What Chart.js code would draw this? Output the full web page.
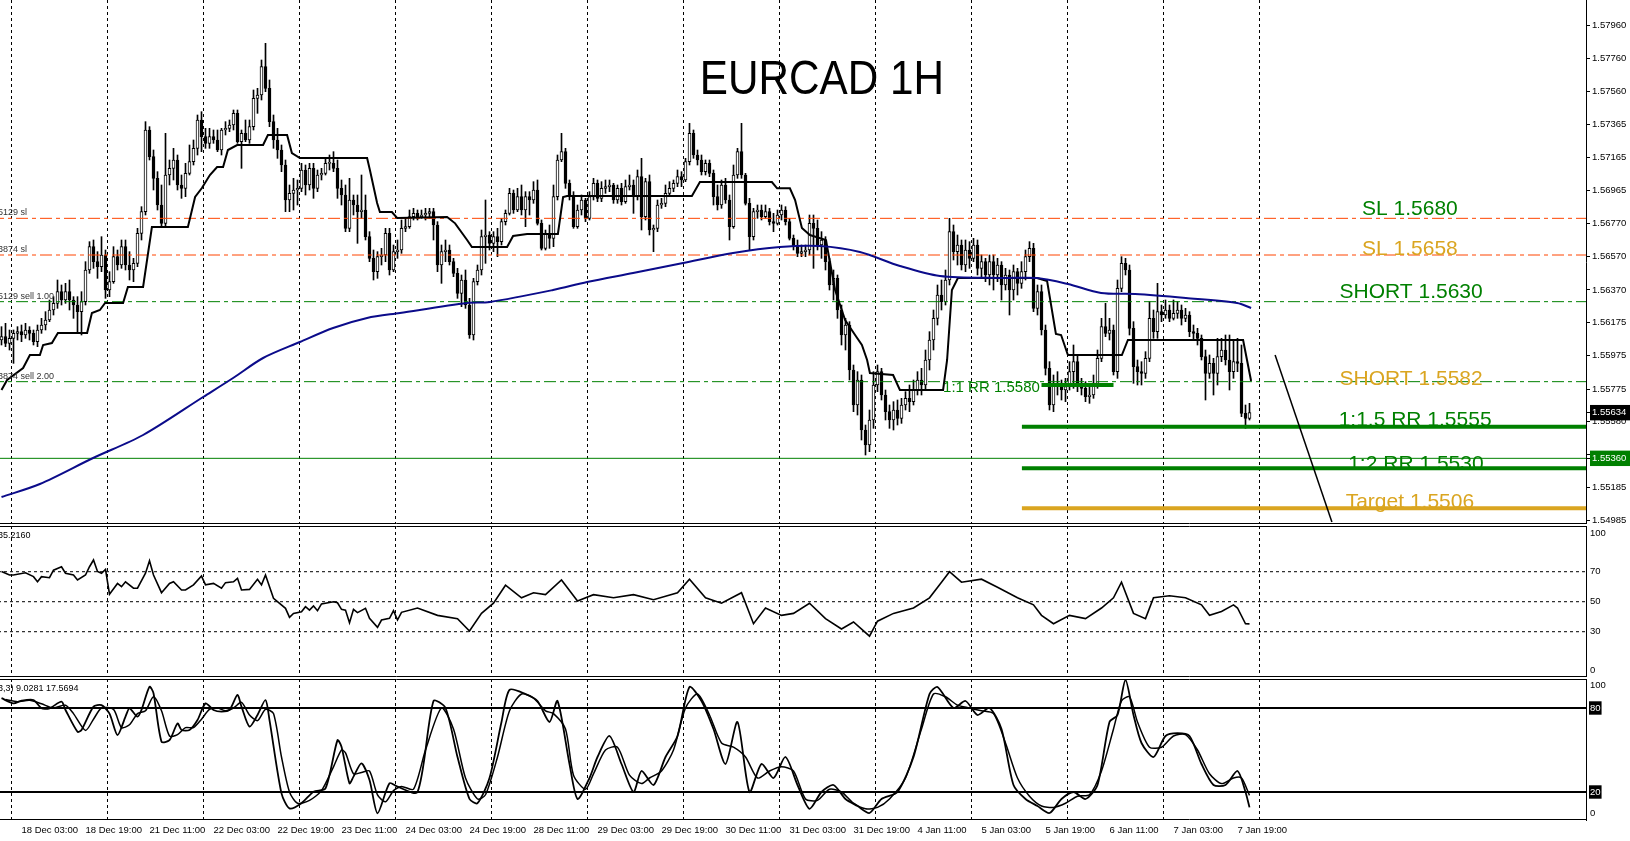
<!DOCTYPE html>
<html>
<head>
<meta charset="utf-8">
<title>EURCAD 1H</title>
<script src="https://cdn.jsdelivr.net/npm/chart.js@4.4.1/dist/chart.umd.min.js"></script>
<style>
  html, body { margin: 0; padding: 0; background: #fff; }
  #wrap { position: relative; width: 1630px; height: 841px; overflow: hidden; background: #fff; }
  #wrap canvas { position: absolute; left: 0; }
</style>
</head>
<body>
<div id="wrap">
  <canvas id="priceCanvas" width="1630" height="524" style="top:0;width:1630px;height:524px"></canvas>
  <canvas id="rsiCanvas" width="1630" height="151" style="top:526px;width:1630px;height:151px"></canvas>
  <canvas id="stochCanvas" width="1630" height="162" style="top:679px;width:1630px;height:162px"></canvas>
</div>
<script>
// ---- hourly candles, one entry per bar (bar 0 = left edge) ----
const opens = [
  1.5607,1.5609,1.5605,1.5608,1.5611,1.5612,1.5610,1.5613,1.5611,1.5606,
  1.5613,1.5616,1.5619,1.5625,1.5629,1.5636,1.5631,1.5636,1.5631,1.5628,
  1.5624,1.5630,1.5649,1.5663,1.5654,1.5651,1.5658,1.5637,1.5642,1.5657,
  1.5652,1.5663,1.5652,1.5649,1.5653,1.5671,1.5684,1.5733,1.5717,1.5704,
  1.5688,1.5677,1.5706,1.5710,1.5715,1.5700,1.5698,1.5707,1.5714,1.5722,
  1.5739,1.5729,1.5725,1.5729,1.5727,1.5721,1.5733,1.5734,1.5736,1.5743,
  1.5726,1.5731,1.5727,1.5735,1.5752,1.5754,1.5771,1.5758,1.5738,1.5727,
  1.5721,1.5712,1.5691,1.5695,1.5697,1.5698,1.5709,1.5700,1.5710,1.5698,
  1.5706,1.5707,1.5713,1.5713,1.5710,1.5698,1.5694,1.5674,1.5691,1.5688,
  1.5684,1.5685,1.5669,1.5656,1.5648,1.5657,1.5658,1.5671,1.5649,1.5660,
  1.5661,1.5674,1.5675,1.5681,1.5683,1.5681,1.5682,1.5683,1.5684,1.5676,
  1.5652,1.5660,1.5661,1.5654,1.5647,1.5635,1.5643,1.5628,1.5610,1.5642,
  1.5649,1.5669,1.5670,1.5665,1.5669,1.5666,1.5678,1.5683,1.5695,1.5685,
  1.5693,1.5685,1.5693,1.5691,1.5697,1.5677,1.5662,1.5671,1.5668,1.5693,
  1.5715,1.5720,1.5701,1.5693,1.5675,1.5685,1.5691,1.5680,1.5693,1.5701,
  1.5692,1.5698,1.5699,1.5700,1.5691,1.5698,1.5690,1.5699,1.5700,1.5693,
  1.5705,1.5681,1.5702,1.5673,1.5674,1.5688,1.5689,1.5695,1.5698,1.5701,
  1.5705,1.5703,1.5714,1.5731,1.5718,1.5715,1.5708,1.5713,1.5707,1.5693,
  1.5688,1.5700,1.5691,1.5675,1.5706,1.5720,1.5706,1.5689,1.5669,1.5684,
  1.5685,1.5681,1.5684,1.5678,1.5677,1.5682,1.5685,1.5678,1.5668,1.5663,
  1.5659,1.5660,1.5661,1.5677,1.5674,1.5664,1.5667,1.5654,1.5640,1.5644,
  1.5625,1.5610,1.5616,1.5589,1.5568,1.5583,1.5553,1.5544,1.5559,1.5580,
  1.5588,1.5574,1.5564,1.5559,1.5565,1.5560,1.5568,1.5572,1.5570,1.5577,
  1.5583,1.5580,1.5595,1.5607,1.5620,1.5634,1.5630,1.5643,1.5672,1.5660,
  1.5664,1.5652,1.5661,1.5656,1.5664,1.5650,1.5654,1.5646,1.5654,1.5646,
  1.5652,1.5640,1.5646,1.5637,1.5648,1.5641,1.5648,1.5657,1.5662,1.5626,
  1.5636,1.5613,1.5590,1.5568,1.5581,1.5579,1.5577,1.5579,1.5588,1.5594,
  1.5579,1.5578,1.5573,1.5574,1.5581,1.5596,1.5615,1.5611,1.5613,1.5588,
  1.5638,1.5653,1.5649,1.5614,1.5591,1.5588,1.5587,1.5596,1.5620,1.5612,
  1.5624,1.5622,1.5625,1.5620,1.5623,1.5625,1.5620,1.5622,1.5612,1.5611,
  1.5608,1.5597,1.5587,1.5593,1.5587,1.5597,1.5601,1.5595,1.5588,1.5594,
  1.5593,1.5563,1.5560
];
const highs = [
  1.5615,1.5617,1.5613,1.5613,1.5615,1.5616,1.5617,1.5615,1.5613,1.5616,
  1.5620,1.5624,1.5631,1.5633,1.5643,1.5640,1.5641,1.5643,1.5633,1.5633,
  1.5636,1.5654,1.5666,1.5667,1.5660,1.5669,1.5661,1.5648,1.5663,1.5661,
  1.5667,1.5667,1.5660,1.5656,1.5674,1.5687,1.5738,1.5735,1.5721,1.5708,
  1.5700,1.5731,1.5715,1.5722,1.5718,1.5706,1.5713,1.5724,1.5727,1.5742,
  1.5744,1.5734,1.5734,1.5733,1.5733,1.5734,1.5738,1.5739,1.5745,1.5745,
  1.5733,1.5739,1.5739,1.5757,1.5758,1.5775,1.5785,1.5763,1.5742,1.5734,
  1.5724,1.5715,1.5700,1.5704,1.5703,1.5713,1.5712,1.5713,1.5713,1.5709,
  1.5710,1.5716,1.5718,1.5720,1.5715,1.5703,1.5700,1.5704,1.5694,1.5694,
  1.5706,1.5694,1.5672,1.5661,1.5660,1.5662,1.5674,1.5674,1.5664,1.5667,
  1.5679,1.5680,1.5685,1.5686,1.5685,1.5685,1.5686,1.5686,1.5686,1.5678,
  1.5664,1.5667,1.5664,1.5656,1.5650,1.5646,1.5649,1.5632,1.5644,1.5652,
  1.5673,1.5691,1.5672,1.5672,1.5674,1.5680,1.5685,1.5698,1.5697,1.5698,
  1.5700,1.5696,1.5696,1.5702,1.5703,1.5679,1.5673,1.5676,1.5700,1.5718,
  1.5731,1.5722,1.5703,1.5696,1.5688,1.5694,1.5692,1.5696,1.5704,1.5703,
  1.5702,1.5703,1.5703,1.5701,1.5700,1.5701,1.5703,1.5706,1.5703,1.5709,
  1.5716,1.5704,1.5706,1.5676,1.5691,1.5692,1.5700,1.5702,1.5703,1.5709,
  1.5708,1.5716,1.5737,1.5733,1.5721,1.5718,1.5715,1.5715,1.5709,1.5700,
  1.5703,1.5704,1.5694,1.5712,1.5722,1.5737,1.5707,1.5692,1.5686,1.5688,
  1.5688,1.5688,1.5686,1.5683,1.5685,1.5688,1.5687,1.5680,1.5670,1.5667,
  1.5664,1.5664,1.5682,1.5682,1.5679,1.5672,1.5669,1.5656,1.5649,1.5646,
  1.5628,1.5620,1.5618,1.5592,1.5588,1.5586,1.5556,1.5565,1.5588,1.5592,
  1.5590,1.5577,1.5568,1.5570,1.5571,1.5572,1.5576,1.5580,1.5583,1.5588,
  1.5590,1.5601,1.5612,1.5625,1.5640,1.5643,1.5649,1.5680,1.5676,1.5670,
  1.5667,1.5667,1.5666,1.5668,1.5667,1.5658,1.5656,1.5658,1.5658,1.5656,
  1.5654,1.5650,1.5649,1.5652,1.5650,1.5654,1.5661,1.5666,1.5665,1.5640,
  1.5640,1.5616,1.5594,1.5586,1.5588,1.5583,1.5584,1.5594,1.5604,1.5598,
  1.5584,1.5582,1.5580,1.5586,1.5601,1.5620,1.5629,1.5620,1.5616,1.5643,
  1.5657,1.5656,1.5652,1.5618,1.5595,1.5594,1.5600,1.5630,1.5625,1.5641,
  1.5628,1.5631,1.5628,1.5631,1.5630,1.5628,1.5626,1.5624,1.5616,1.5614,
  1.5610,1.5601,1.5598,1.5596,1.5608,1.5608,1.5610,1.5610,1.5607,1.5608,
  1.5604,1.5568,1.5569
];
const lows = [
  1.5604,1.5603,1.5601,1.5593,1.5607,1.5606,1.5608,1.5607,1.5604,1.5603,
  1.5611,1.5613,1.5618,1.5622,1.5626,1.5628,1.5629,1.5625,1.5620,1.5611,
  1.5610,1.5628,1.5647,1.5650,1.5644,1.5648,1.5632,1.5633,1.5641,1.5649,
  1.5650,1.5649,1.5643,1.5642,1.5651,1.5667,1.5682,1.5715,1.5697,1.5685,
  1.5675,1.5675,1.5700,1.5703,1.5697,1.5692,1.5693,1.5706,1.5712,1.5718,
  1.5720,1.5722,1.5722,1.5725,1.5720,1.5718,1.5730,1.5732,1.5733,1.5725,
  1.5710,1.5726,1.5725,1.5733,1.5743,1.5751,1.5756,1.5735,1.5722,1.5716,
  1.5708,1.5684,1.5684,1.5685,1.5688,1.5696,1.5694,1.5697,1.5692,1.5696,
  1.5703,1.5706,1.5709,1.5708,1.5692,1.5688,1.5672,1.5672,1.5682,1.5665,
  1.5680,1.5667,1.5654,1.5643,1.5644,1.5652,1.5654,1.5646,1.5648,1.5656,
  1.5659,1.5672,1.5674,1.5679,1.5679,1.5680,1.5679,1.5680,1.5667,1.5648,
  1.5641,1.5654,1.5652,1.5645,1.5632,1.5627,1.5626,1.5608,1.5607,1.5640,
  1.5646,1.5653,1.5661,1.5660,1.5657,1.5664,1.5676,1.5682,1.5683,1.5684,
  1.5682,1.5675,1.5682,1.5689,1.5676,1.5661,1.5661,1.5662,1.5663,1.5691,
  1.5714,1.5698,1.5691,1.5674,1.5674,1.5682,1.5678,1.5679,1.5691,1.5690,
  1.5690,1.5695,1.5696,1.5689,1.5689,1.5688,1.5689,1.5697,1.5683,1.5691,
  1.5673,1.5679,1.5670,1.5660,1.5672,1.5686,1.5687,1.5693,1.5696,1.5699,
  1.5699,1.5702,1.5712,1.5716,1.5712,1.5706,1.5706,1.5705,1.5688,1.5685,
  1.5686,1.5689,1.5667,1.5674,1.5704,1.5704,1.5688,1.5661,1.5667,1.5680,
  1.5679,1.5680,1.5676,1.5672,1.5676,1.5679,1.5676,1.5667,1.5661,1.5657,
  1.5657,1.5657,1.5658,1.5650,1.5661,1.5656,1.5649,1.5637,1.5631,1.5620,
  1.5604,1.5601,1.5583,1.5564,1.5562,1.5547,1.5538,1.5540,1.5554,1.5576,
  1.5571,1.5559,1.5554,1.5553,1.5556,1.5557,1.5565,1.5564,1.5568,1.5574,
  1.5574,1.5577,1.5589,1.5601,1.5616,1.5625,1.5628,1.5640,1.5655,1.5652,
  1.5649,1.5648,1.5650,1.5654,1.5646,1.5644,1.5642,1.5640,1.5637,1.5642,
  1.5631,1.5637,1.5622,1.5631,1.5634,1.5638,1.5643,1.5654,1.5624,1.5622,
  1.5610,1.5586,1.5565,1.5564,1.5574,1.5571,1.5570,1.5577,1.5578,1.5576,
  1.5574,1.5570,1.5569,1.5572,1.5578,1.5594,1.5609,1.5607,1.5586,1.5584,
  1.5636,1.5646,1.5610,1.5581,1.5580,1.5580,1.5584,1.5594,1.5608,1.5608,
  1.5618,1.5620,1.5618,1.5619,1.5620,1.5616,1.5618,1.5609,1.5607,1.5604,
  1.5595,1.5571,1.5584,1.5574,1.5580,1.5594,1.5592,1.5577,1.5584,1.5588,
  1.5561,1.5554,1.5559
];
const closes = [
  1.5609,1.5605,1.5608,1.5611,1.5612,1.5610,1.5613,1.5611,1.5606,1.5613,
  1.5616,1.5619,1.5625,1.5629,1.5636,1.5631,1.5636,1.5631,1.5628,1.5624,
  1.5630,1.5649,1.5663,1.5654,1.5651,1.5658,1.5637,1.5642,1.5657,1.5652,
  1.5663,1.5652,1.5649,1.5653,1.5671,1.5684,1.5733,1.5717,1.5704,1.5688,
  1.5677,1.5706,1.5710,1.5715,1.5700,1.5698,1.5707,1.5714,1.5722,1.5739,
  1.5729,1.5725,1.5729,1.5727,1.5721,1.5733,1.5734,1.5736,1.5743,1.5726,
  1.5731,1.5727,1.5735,1.5752,1.5754,1.5771,1.5758,1.5738,1.5727,1.5721,
  1.5712,1.5691,1.5695,1.5697,1.5698,1.5709,1.5700,1.5710,1.5698,1.5706,
  1.5707,1.5713,1.5713,1.5710,1.5698,1.5694,1.5674,1.5691,1.5688,1.5684,
  1.5685,1.5669,1.5656,1.5648,1.5657,1.5658,1.5671,1.5649,1.5660,1.5661,
  1.5674,1.5675,1.5681,1.5683,1.5681,1.5682,1.5683,1.5684,1.5676,1.5652,
  1.5660,1.5661,1.5654,1.5647,1.5635,1.5643,1.5628,1.5610,1.5642,1.5649,
  1.5669,1.5670,1.5665,1.5669,1.5666,1.5678,1.5683,1.5695,1.5685,1.5693,
  1.5685,1.5693,1.5691,1.5697,1.5677,1.5662,1.5671,1.5668,1.5693,1.5715,
  1.5720,1.5701,1.5693,1.5675,1.5685,1.5691,1.5680,1.5693,1.5701,1.5692,
  1.5698,1.5699,1.5700,1.5691,1.5698,1.5690,1.5699,1.5700,1.5693,1.5705,
  1.5681,1.5702,1.5673,1.5674,1.5688,1.5689,1.5695,1.5698,1.5701,1.5705,
  1.5703,1.5714,1.5731,1.5718,1.5715,1.5708,1.5713,1.5707,1.5693,1.5688,
  1.5700,1.5691,1.5675,1.5706,1.5720,1.5706,1.5689,1.5669,1.5684,1.5685,
  1.5681,1.5684,1.5678,1.5677,1.5682,1.5685,1.5678,1.5668,1.5663,1.5659,
  1.5660,1.5661,1.5677,1.5674,1.5664,1.5667,1.5654,1.5640,1.5644,1.5625,
  1.5610,1.5616,1.5589,1.5568,1.5583,1.5553,1.5544,1.5559,1.5580,1.5588,
  1.5574,1.5564,1.5559,1.5565,1.5560,1.5568,1.5572,1.5570,1.5577,1.5583,
  1.5580,1.5595,1.5607,1.5620,1.5634,1.5630,1.5643,1.5672,1.5660,1.5664,
  1.5652,1.5661,1.5656,1.5664,1.5650,1.5654,1.5646,1.5654,1.5646,1.5652,
  1.5640,1.5646,1.5637,1.5648,1.5641,1.5648,1.5657,1.5662,1.5626,1.5636,
  1.5613,1.5590,1.5568,1.5581,1.5579,1.5577,1.5579,1.5588,1.5594,1.5579,
  1.5578,1.5573,1.5574,1.5581,1.5596,1.5615,1.5611,1.5613,1.5588,1.5638,
  1.5653,1.5649,1.5614,1.5591,1.5588,1.5587,1.5596,1.5620,1.5612,1.5624,
  1.5622,1.5625,1.5620,1.5623,1.5625,1.5620,1.5622,1.5612,1.5611,1.5608,
  1.5597,1.5587,1.5593,1.5587,1.5597,1.5601,1.5595,1.5588,1.5594,1.5593,
  1.5563,1.5560,1.55634
];

// blue moving average, read at a few bars
const maBars = [0, 9.6, 22.9, 35.4, 50.4, 57.9, 65.4, 74.6, 82.9, 91.4, 99.6, 116.4, 122.1, 137.9, 146.4, 157.9,
  170.4, 182.9, 194.6, 204.6, 214.6, 224.6, 234.6, 249.6, 258.9, 266.6, 274.9, 283.4, 296.1, 308.9, 312.4];
const maValues = [1.55128, 1.55206, 1.55362, 1.555, 1.55728, 1.55842, 1.55962, 1.56058, 1.56142, 1.56202, 1.56232,
  1.56292, 1.56298, 1.5637, 1.56418, 1.56472, 1.56532, 1.56592, 1.56628, 1.56634, 1.56598, 1.56514, 1.56454,
  1.56442, 1.56442, 1.56406, 1.56352, 1.56346, 1.56322, 1.56292, 1.56262];

// black stepped line (corners)
const stepBars = [0, 1.4, 5.4, 7.1, 9.6, 10.4, 12.6, 14.1, 21.4, 22.6, 24.6, 25.9, 30.4, 31.6, 35.4, 37.6, 46.6,
  48.4, 50.1, 52.1, 53.9, 55.4, 56.6, 58.9, 65.4, 66.6, 71.4, 72.6, 74.6, 91.4, 92.1, 93.9, 94.6, 97.6, 98.9, 111.4,
  113.4, 116.4, 117.6, 126.4, 127.9, 131.4, 139.1, 140.4, 141.4, 172.6, 174.6, 192.6, 193.9, 197.1, 198.4, 200.1,
  202.1, 206.1, 208.4, 210.9, 213.4, 215.1, 216.4, 217.1, 222.9, 224.6, 235.4, 236.4, 237.6, 239.1, 258.9, 261.4,
  263.6, 264.9, 266.6, 280.1, 281.6, 310.4, 312.4];
const stepValues = [1.5577, 1.5583, 1.55902, 1.5598, 1.5598, 1.5604, 1.56052, 1.56112, 1.56112, 1.56232, 1.5625,
  1.56292, 1.56292, 1.56388, 1.56388, 1.56748, 1.56748, 1.56928, 1.56982, 1.5706, 1.57108, 1.57108, 1.5721, 1.5724,
  1.5724, 1.573, 1.573, 1.57192, 1.57162, 1.57162, 1.5709, 1.56892, 1.56838, 1.56838, 1.56802, 1.56808, 1.5677,
  1.5667, 1.56628, 1.56628, 1.56694, 1.56706, 1.56706, 1.56928, 1.56934, 1.56934, 1.57018, 1.57018, 1.5698, 1.5698,
  1.5691, 1.56742, 1.567, 1.5667, 1.5637, 1.5619, 1.561, 1.5604, 1.5595, 1.55872, 1.5586, 1.5577, 1.5577, 1.5595,
  1.5637, 1.56442, 1.56442, 1.56424, 1.56106, 1.561, 1.5598, 1.5598, 1.5607, 1.5607, 1.55824];

// RSI(14)
const rsiBars = [0,2,3,6,8,9,10,12,13,15,16,18,19,21,22,23,24,25,26,27,29,30,31,33,34,36,37,38,40,42,43,45,46,48,50,
  51,53,55,56,58,59,60,62,64,65,66,68,71,72,73,75,76,77,78,79,80,83,84,85,86,87,88,89,91,92,94,95,97,98,99,100,104,
  109,114,117,120,123,126,130,133,136,140,144,148,153,158,163,169,172,176,180,185,188,191,195,198,202,206,210,213,
  217,219,223,228,232,235,237,240,245,249,254,258,260,263,267,271,275,278,280,283,286,288,292,296,300,302,305,308,
  309,311,312];
const rsiValues = [70.2,67.8,67.8,69.3,66.7,63.3,66.7,66,71,73.3,69,67.8,64.5,67.8,73.3,77.8,70.2,69,71.6,55,62.2,
  60,63.3,59,59,69,77.3,67.8,56,62.2,63.3,57.8,57.8,61.2,67.1,61.2,62.2,59,62.7,63.3,65.6,57.8,58.2,64.9,61.2,67.8,
  52.3,45.6,39.6,42.2,43.3,46.7,44.4,47.1,44,48.5,50,49.3,44.9,44.4,36,44.9,42.7,45.6,38.9,32.9,37.8,38.9,44,37.8,
  42.9,45.8,40.9,38.7,30.5,42.2,49,61,52.6,56,54.7,64.5,50.5,54.7,52.6,54.7,51.3,56,65,52.6,49,56,35.3,45.8,40.9,
  42.2,49,38.7,31.8,36.5,27,37,42.2,45.8,52.6,63,70,63,65,59.6,52.6,47.9,40.9,35.3,40.9,38.7,45.8,52.6,63,42.2,38.7,
  52.6,54,52.6,47.9,40.9,43.5,47.9,45.8,35.3,35.216];
const rsiLevels = [30, 50, 70];

// Stochastic(5,3,3): main and signal
const stochBars = [0,3,5,8,10,12,15,16,19,20,23,25,27,29,31,32,34,35,37,38,40,42,44,45,47,49,51,53,55,57,59,60,62,
  64,66,67,70,72,75,78,81,84,85,87,88,90,92,94,97,99,104,108,111,114,117,119,122,125,127,131,134,137,139,142,144,
  147,149,152,155,158,160,163,166,169,172,175,178,181,184,187,190,193,196,199,202,205,208,211,214,217,220,224,228,
  232,234,238,241,244,247,250,253,256,259,262,265,268,271,274,277,279,281,283,285,288,291,294,297,300,303,306,309,
  311,312];
const stochMain = [87,83.3,85.2,85.7,79.8,79.8,84.5,78.6,63,64.3,81,82,76,60.7,73.8,79.8,73.8,78.6,95.2,90.5,56,57,
  69,64.3,64.3,71.4,83.3,78.6,77.4,78.6,89.3,81,66.7,75,85.7,71.4,19,8.3,12,20.2,22.6,57,52.4,26.2,31,40.5,28.6,4.8,
  26.2,23.8,20,85,80,45,15,12,30,70,93,90,85,70,85,40,15,30,45,60,40,20,35,25,45,60,95,85,65,40,70,20,40,30,45,25,8,
  20,25,15,10,5,15,20,45,90,95,80,85,75,80,65,25,15,10,5,15,20,15,25,70,75,100,75,55,45,60,62,60,40,25,25,35,20,
  9.0281];
const signalBars = [1,4,7,10,13,16,18,21,23,25,28,30,32,34,36,38,40,42,44,46,48,50,52,54,56,58,60,62,64,66,68,70,
  72,74,77,80,83,85,86,88,90,92,94,96,98,100,103,106,110,113,116,119,121,124,127,130,133,136,138,141,143,146,148,
  151,154,157,160,162,165,168,171,174,177,180,183,186,189,192,195,198,201,204,207,210,213,216,219,222,226,230,233,
  236,239,242,245,248,251,254,257,260,263,266,269,272,275,278,280,282,284,287,290,293,296,299,302,305,308,310,312];
const stochSignal = [86,84.5,85.5,83,80,82,76,64,72,80,79,66,68,76,78,88,78,60,61,66,66,72,79,80,78,80,84,75,71,79,
  76,45,20,12,14,21,38,50,48,33,34,35,18,13,21,24,22,50,80,65,30,15,18,45,78,90,87,78,76,65,32,22,33,50,52,32,26,
  30,35,50,80,90,75,55,52,45,30,35,38,35,15,14,22,20,12,8,9,15,30,65,90,88,82,80,78,76,55,30,17,10,9,12,17,18,35,
  65,85,88,70,52,52,60,61,50,33,26,30,30,17.5694];
const stochLevels = [20, 80];

// trade levels drawn on the price panel
const slLevels = [1.5680, 1.5658];
const entryLevels = [1.5630, 1.5582];
const rrLevels = [1.5555, 1.5530];
const targetLevel = 1.5506;
const markLine = 1.5536;
const rr1Bars = [260, 278];
const rr1Price = 1.5580;
const trendBars = [318.4, 332.6];
const trendPrices = [1.5598, 1.54978];
const currentPrice = 1.55634;

// axes
const priceTicks = [1.5796, 1.5776, 1.5756, 1.57365, 1.57165, 1.56965, 1.5677, 1.5657, 1.5637, 1.56175, 1.55975,
  1.55775, 1.5558, 1.5538, 1.55185, 1.54985];
const gridBars = [2.5, 26.5, 50.5, 74.5, 98.5, 122.5, 146.5, 170.5, 194.5, 218.5, 242.5, 266.5, 290.5, 314.5];
const timeBars = [5, 21, 37, 53, 69, 85, 101, 117, 133, 149, 165, 181, 197, 213, 229, 245, 261, 277, 293, 309];
const timeLabels = ['18 Dec 03:00', '18 Dec 19:00', '21 Dec 11:00', '22 Dec 03:00', '22 Dec 19:00', '23 Dec 11:00',
  '24 Dec 03:00', '24 Dec 19:00', '28 Dec 11:00', '29 Dec 03:00', '29 Dec 19:00', '30 Dec 11:00', '31 Dec 03:00',
  '31 Dec 19:00', '4 Jan 11:00', '5 Jan 03:00', '5 Jan 19:00', '6 Jan 11:00', '7 Jan 03:00', '7 Jan 19:00'];

[opens, highs, lows].forEach((a) => {
  if (a.length !== closes.length) throw new Error("candle arrays differ: " + a.length + " vs " + closes.length);
});

const GREEN = "#008000";
const GOLD = "#DAA520";
const ORANGE = "#FF4500";
const NAVY = "#0b0b8a";
const FONT = "'Liberation Sans', Arial, sans-serif";
const X_MIN = -0.375;
const X_MAX = 396.125;
const DASHDOT = [12, 4, 4, 4];
const AXIS_FONT = { size: 9.5 };

Chart.defaults.font.family = FONT;
Chart.defaults.color = "#000";

const points = (xs, ys) => xs.map((x, i) => ({ x, y: ys[i] }));
const hline = (price, from, to, color, width, dash) => ({
  type: "line",
  data: [{ x: from, y: price }, { x: to, y: price }],
  borderColor: color,
  borderWidth: width,
  borderDash: dash || [],
  pointRadius: 0,
  order: 5,
});

// Chart.js reserves room for the first/last tick label; the panels are butted edge to edge, so drop it
const noPadding = (s) => {
  s.paddingTop = 0;
  s.paddingBottom = 0;
  s.paddingLeft = 0;
  s.paddingRight = 0;
};

// vertical dashed grid, shared by every panel
const gridScale = (position) => ({
  type: "linear",
  position,
  min: X_MIN,
  max: X_MAX,
  offset: false,
  ticks: { display: false },
  grid: { color: "#000", lineWidth: 1, drawTicks: false, offset: false },
  border: { display: false, dash: [3, 3] },
  afterBuildTicks: (s) => {
    s.ticks = gridBars.map((v) => ({ value: v }));
  },
  afterFit: (s) => {
    s.height = 0;
    noPadding(s);
  },
});

const rightAxis = (s) => {
  s.width = 44;
  noPadding(s);
};

const frame = (sides) => ({
  id: "frame",
  afterDraw(chart) {
    const { ctx, chartArea: a } = chart;
    ctx.save();
    ctx.strokeStyle = "#000";
    ctx.lineWidth = 1;
    ctx.beginPath();
    if (sides.includes("top")) {
      ctx.moveTo(a.left, a.top + 0.5);
      ctx.lineTo(a.right, a.top + 0.5);
    }
    if (sides.includes("bottom")) {
      ctx.moveTo(a.left, a.bottom - 0.5);
      ctx.lineTo(a.right, a.bottom - 0.5);
    }
    ctx.stroke();
    ctx.restore();
  },
});

// text written on the chart, anchored to bar / price
const notes = [
  { text: "EURCAD 1H", bar: 205.1, price: 1.57546, dy: 0, color: "#000", size: 48, squeeze: 0.88 },
  { text: "SL 1.5680", bar: 352.1, price: 1.5680, dy: -3, color: GREEN, size: 21 },
  { text: "SL 1.5658", bar: 352.1, price: 1.5658, dy: 0, color: GOLD, size: 21 },
  { text: "SHORT 1.5630", bar: 352.4, price: 1.5630, dy: -4, color: GREEN, size: 21 },
  { text: "SHORT 1.5582", bar: 352.4, price: 1.5582, dy: 3, color: GOLD, size: 21 },
  { text: "1:1.5 RR 1.5555", bar: 353.4, price: 1.5555, dy: -1, color: GREEN, size: 21 },
  { text: "1:2 RR 1.5530", bar: 353.6, price: 1.5530, dy: 2, color: GREEN, size: 21 },
  { text: "Target 1.5506", bar: 352.1, price: 1.5506, dy: 0, color: GOLD, size: 21 },
  { text: "1:1 RR 1.5580", bar: 235.4, price: 1.5580, dy: 7, color: GREEN, size: 15, align: "left" },
  { text: "5129 sl", bar: -0.9, price: 1.5680, dy: -3, color: "#333", size: 9, align: "left" },
  { text: "3874 sl", bar: -0.9, price: 1.5658, dy: -3, color: "#333", size: 9, align: "left" },
  { text: "5129 sell 1.00", bar: -0.9, price: 1.5630, dy: -3, color: "#333", size: 9, align: "left" },
  { text: "3874 sell 2.00", bar: -0.9, price: 1.5582, dy: -3, color: "#333", size: 9, align: "left" },
];

const notesPlugin = {
  id: "notes",
  afterDatasetsDraw(chart) {
    const { ctx, scales } = chart;
    ctx.save();
    notes.forEach((n) => {
      const px = scales.x.getPixelForValue(n.bar);
      const py = scales.y.getPixelForValue(n.price) + n.dy;
      ctx.font = n.size + "px " + FONT;
      ctx.fillStyle = n.color;
      ctx.textAlign = n.align || "center";
      ctx.textBaseline = "alphabetic";
      if (n.squeeze) {
        ctx.save();
        ctx.translate(px, py);
        ctx.scale(n.squeeze, 1);
        ctx.fillText(n.text, 0, 0);
        ctx.restore();
      } else {
        ctx.fillText(n.text, px, py);
      }
    });
    ctx.restore();
  },
};

// indicator caption in the panel's top-left corner, its start hidden past the edge
const caption = (hidden, shown, baseline) => ({
  id: "caption",
  afterDraw(chart) {
    const { ctx } = chart;
    ctx.save();
    ctx.font = "9px " + FONT;
    ctx.fillStyle = "#000";
    ctx.textBaseline = "alphabetic";
    const x = -ctx.measureText(hidden).width - 2;
    ctx.fillText(hidden + shown, x, baseline);
    ctx.restore();
  },
});

const bodyColor = (ctx) => (closes[ctx.dataIndex] >= opens[ctx.dataIndex] ? "#fff" : "#000");
const isSpecial = (v) => v === currentPrice || v === markLine;

new Chart(document.getElementById("priceCanvas"), {
  type: "bar",
  data: {
    datasets: [
      ...slLevels.map((p) => hline(p, X_MIN - 2, X_MAX + 2, ORANGE, 1, DASHDOT)),
      ...entryLevels.map((p) => hline(p, X_MIN - 2, X_MAX + 2, GREEN, 1, DASHDOT)),
      hline(markLine, X_MIN - 2, X_MAX + 2, GREEN, 1),
      ...rrLevels.map((p) => hline(p, 255.1, X_MAX + 2, GREEN, 4)),
      hline(targetLevel, 255.1, X_MAX + 2, GOLD, 4),
      hline(rr1Price, rr1Bars[0], rr1Bars[1], GREEN, 4),
      {
        type: "line",
        data: points(trendBars, trendPrices),
        borderColor: "#000",
        borderWidth: 1.5,
        pointRadius: 0,
        order: 4,
      },
      {
        type: "line",
        data: points(maBars, maValues),
        borderColor: NAVY,
        borderWidth: 2,
        pointRadius: 0,
        tension: 0.3,
        order: 2,
      },
      {
        type: "line",
        data: points(stepBars, stepValues),
        borderColor: "#000",
        borderWidth: 2,
        pointRadius: 0,
        order: 3,
      },
      {
        data: closes.map((c, i) => ({ x: i, y: [opens[i], c] })),
        backgroundColor: bodyColor,
        borderColor: "#000",
        borderWidth: 1,
        borderSkipped: false,
        barThickness: 3,
        minBarLength: 1,
        grouped: false,
        order: 7,
      },
      {
        data: closes.map((c, i) => ({ x: i, y: [lows[i], highs[i]] })),
        backgroundColor: "#000",
        borderWidth: 0,
        barThickness: 1,
        grouped: false,
        order: 8,
      },
    ],
  },
  options: {
    responsive: false,
    animation: false,
    events: [],
    layout: { padding: 0 },
    plugins: { legend: { display: false }, tooltip: { enabled: false } },
    scales: {
      x: gridScale("bottom"),
      y: {
        type: "linear",
        position: "right",
        min: 1.54966,
        max: 1.5811,
        afterFit: rightAxis,
        afterBuildTicks: (s) => {
          s.ticks = priceTicks.concat([currentPrice, markLine]).map((v) => ({ value: v }));
        },
        ticks: {
          autoSkip: false,
          padding: 2,
          font: AXIS_FONT,
          callback: (v) => v.toFixed(5),
          color: (ctx) => (isSpecial(ctx.tick.value) ? "#fff" : "#000"),
          showLabelBackdrop: (ctx) => isSpecial(ctx.tick.value),
          backdropColor: (ctx) => (ctx.tick.value === currentPrice ? "#000" : GREEN),
          backdropPadding: { top: 2, bottom: 2, left: 2, right: 8 },
        },
        grid: { drawOnChartArea: false, drawTicks: true, tickLength: 4, color: "#000" },
        border: { display: true, color: "#000", width: 1 },
      },
    },
  },
  plugins: [frame(["bottom"]), notesPlugin],
});

const rsiTickAt = { 95.8: "100", 70: "70", 50: "50", 30: "30", 4: "0" };

new Chart(document.getElementById("rsiCanvas"), {
  type: "line",
  data: {
    datasets: [
      ...rsiLevels.map((v) => hline(v, X_MIN - 2, X_MAX + 2, "#000", 1, [3, 3])),
      {
        data: points(rsiBars, rsiValues),
        borderColor: "#000",
        borderWidth: 1.6,
        pointRadius: 0,
        order: 1,
      },
    ],
  },
  options: {
    responsive: false,
    animation: false,
    events: [],
    layout: { padding: 0 },
    plugins: { legend: { display: false }, tooltip: { enabled: false } },
    scales: {
      x: gridScale("bottom"),
      y: {
        type: "linear",
        position: "right",
        min: -0.2,
        max: 100.47,
        afterFit: rightAxis,
        afterBuildTicks: (s) => {
          s.ticks = Object.keys(rsiTickAt).map((v) => ({ value: Number(v) }));
        },
        ticks: { autoSkip: false, padding: 4, font: AXIS_FONT, callback: (v) => rsiTickAt[v] },
        grid: { display: false, drawTicks: false },
        border: { display: true, color: "#000", width: 1 },
      },
    },
  },
  plugins: [frame(["top", "bottom"]), caption("RSI(14) ", "35.2160", 12)],
});

const stochTickAt = { 95.9: "100", 80: "80", 20: "20", 5: "0" };
const boxed = (ctx) => ctx.tick.value === 80 || ctx.tick.value === 20;

new Chart(document.getElementById("stochCanvas"), {
  type: "line",
  data: {
    datasets: [
      ...stochLevels.map((v) => hline(v, X_MIN - 2, X_MAX + 2, "#000", 2)),
      {
        data: points(signalBars, stochSignal),
        borderColor: "#000",
        borderWidth: 1.5,
        pointRadius: 0,
        tension: 0.25,
        order: 2,
      },
      {
        data: points(stochBars, stochMain),
        borderColor: "#000",
        borderWidth: 1.8,
        pointRadius: 0,
        tension: 0.25,
        order: 1,
      },
    ],
  },
  options: {
    responsive: false,
    animation: false,
    events: [],
    layout: { padding: 0 },
    plugins: { legend: { display: false }, tooltip: { enabled: false } },
    scales: {
      x: gridScale("top"),
      xl: {
        type: "linear",
        position: "bottom",
        min: X_MIN,
        max: X_MAX,
        offset: false,
        afterBuildTicks: (s) => {
          s.ticks = timeBars.map((v) => ({ value: v }));
        },
        afterFit: (s) => {
          s.height = 21;
          noPadding(s);
        },
        ticks: {
          autoSkip: false,
          maxRotation: 0,
          minRotation: 0,
          align: "start",
          padding: 5,
          font: AXIS_FONT,
          callback: (v, i) => timeLabels[i],
        },
        grid: { display: false, drawTicks: false },
        border: { display: false },
      },
      y: {
        type: "linear",
        position: "right",
        min: 0,
        max: 100.71,
        afterFit: rightAxis,
        afterBuildTicks: (s) => {
          s.ticks = Object.keys(stochTickAt).map((v) => ({ value: Number(v) }));
        },
        ticks: {
          autoSkip: false,
          padding: 4,
          font: AXIS_FONT,
          callback: (v) => stochTickAt[v],
          color: (ctx) => (boxed(ctx) ? "#fff" : "#000"),
          showLabelBackdrop: boxed,
          backdropColor: "#000",
          backdropPadding: 1,
        },
        grid: { display: false, drawTicks: false },
        border: { display: true, color: "#000", width: 1 },
      },
    },
  },
  plugins: [frame(["top", "bottom"]), caption("Stoch(5,", "3,3) 9.0281 17.5694", 12)],
});
</script>
</body>
</html>
